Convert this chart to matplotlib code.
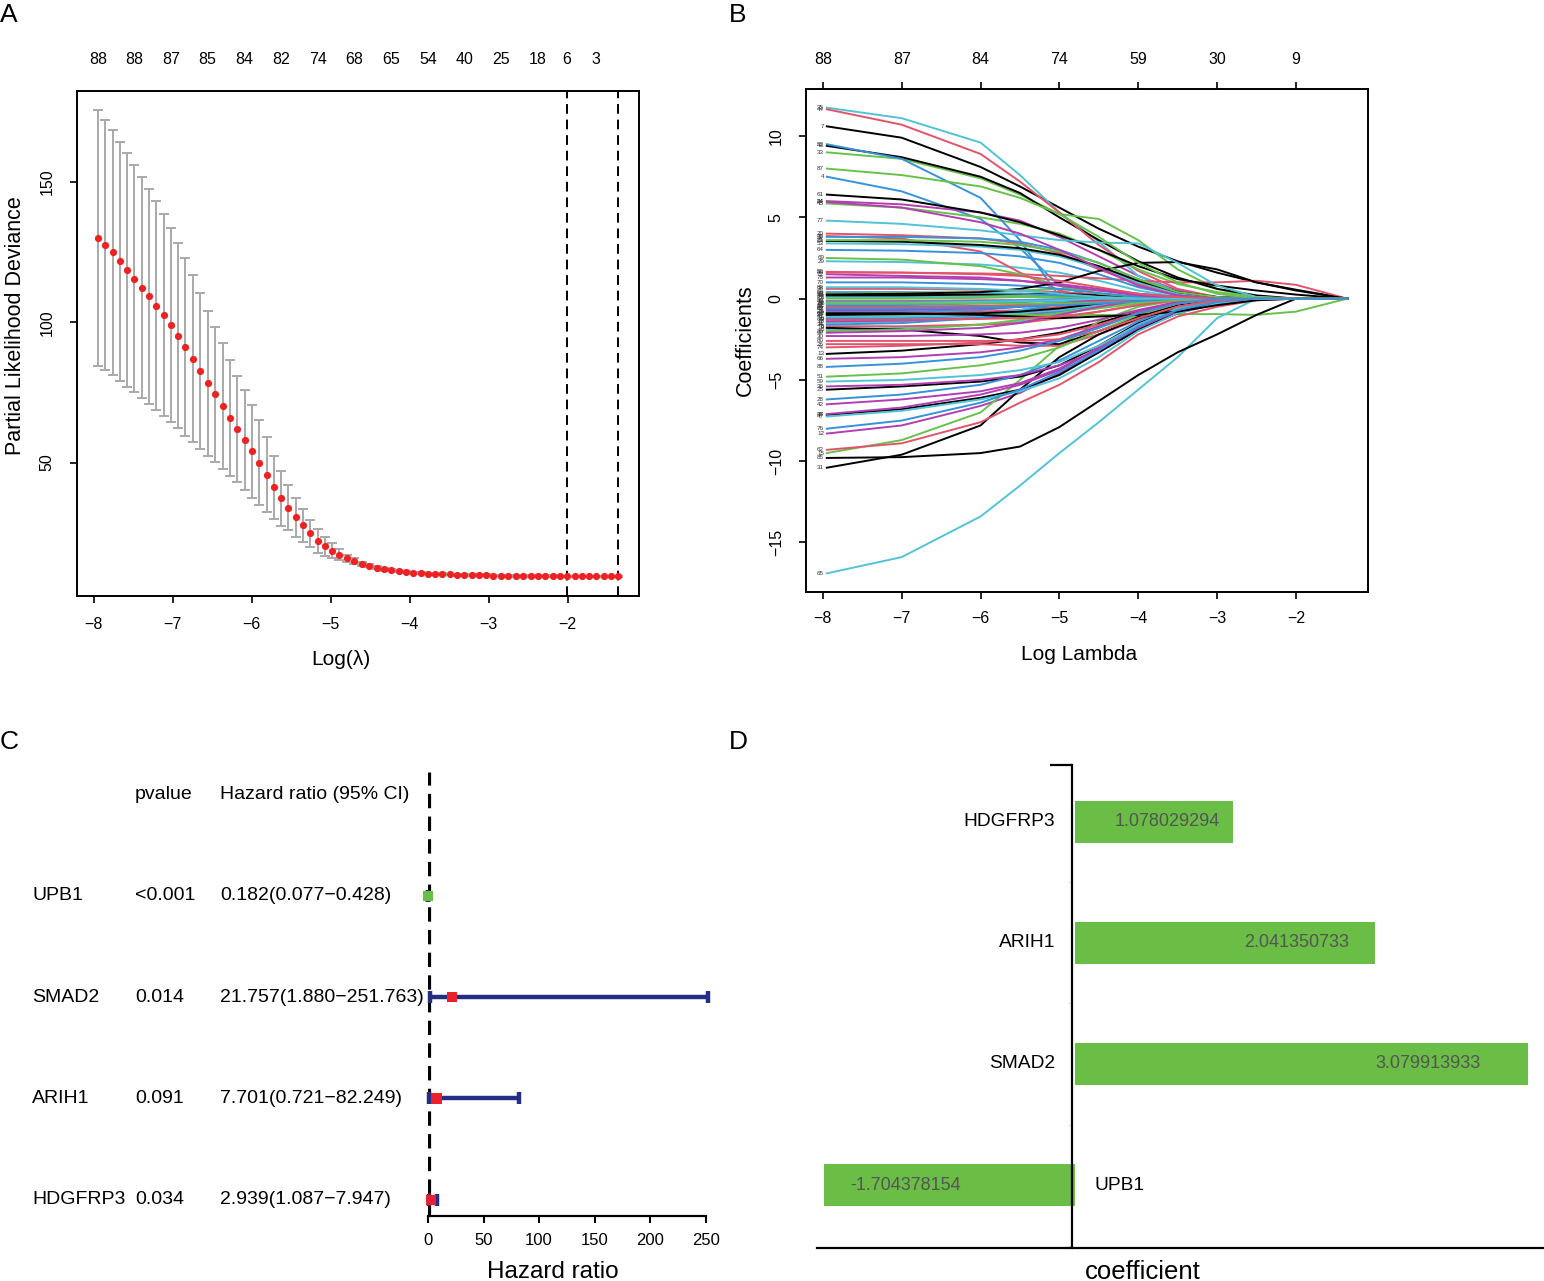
import numpy as np
import matplotlib
matplotlib.use('Agg')
import matplotlib.pyplot as plt
from matplotlib.transforms import blended_transform_factory

plt.rcParams['font.family'] = ['Liberation Sans', 'DejaVu Sans']

# ---------------- panel A: cross-validated deviance ----------------
cv_log_lambda = [
    -7.95, -7.86, -7.76, -7.67, -7.58, -7.49, -7.39, -7.30, -7.21, -7.11,
    -7.02, -6.93, -6.84, -6.74, -6.65, -6.56, -6.46, -6.37, -6.28, -6.19,
    -6.09, -6.00, -5.91, -5.81, -5.72, -5.63, -5.54, -5.44, -5.35, -5.26,
    -5.16, -5.07, -4.98, -4.89, -4.79, -4.70, -4.61, -4.51, -4.42, -4.33,
    -4.24, -4.14, -4.05, -3.96, -3.86, -3.77, -3.68, -3.59, -3.49, -3.40,
    -3.31, -3.21, -3.12, -3.03, -2.94, -2.84, -2.75, -2.66, -2.56, -2.47,
    -2.38, -2.29, -2.19, -2.10, -2.01, -1.91, -1.82, -1.73, -1.64, -1.54,
    -1.45, -1.36]
cv_deviance = [
    130.2, 127.6, 124.9, 121.8, 118.7, 115.6, 112.4, 109.3, 105.9, 102.6,
    99.1, 95.2, 91.2, 87.0, 82.5, 78.3, 74.3, 70.1, 65.9, 61.8,
    57.9, 54.0, 50.0, 45.7, 41.2, 37.2, 33.9, 30.5, 27.6, 24.8,
    22.1, 20.1, 18.6, 17.2, 15.9, 14.9, 13.9, 13.2, 12.5, 12.0,
    11.6, 11.3, 11.0, 10.8, 10.6, 10.4, 10.3, 10.2, 10.1, 10.0,
    9.9, 9.9, 9.8, 9.8, 9.7, 9.7, 9.6, 9.6, 9.6, 9.5,
    9.5, 9.5, 9.5, 9.4, 9.4, 9.4, 9.4, 9.4, 9.4, 9.4,
    9.4, 9.4]
cv_sd = [
    45.6, 44.7, 43.7, 42.6, 41.7, 40.4, 39.4, 38.3, 37.3, 36.1,
    34.6, 33.0, 31.6, 29.8, 27.8, 25.9, 24.2, 22.4, 20.6, 18.9,
    17.8, 16.6, 15.1, 13.3, 11.3, 9.7, 8.1, 6.9, 5.9, 4.9,
    4.2, 3.3, 2.6, 1.9, 1.3, 1.0, 0.8, 0.6, 0.5, 0.5,
    0.4, 0.4, 0.4, 0.3, 0.3, 0.3, 0.3, 0.3, 0.3, 0.3,
    0.3, 0.3, 0.3, 0.3, 0.3, 0.3, 0.3, 0.3, 0.3, 0.3,
    0.3, 0.3, 0.3, 0.3, 0.3, 0.3, 0.3, 0.3, 0.3, 0.3,
    0.3, 0.3]
cv_top_idx = [0, 5, 10, 15, 20, 25, 30, 35, 40, 45, 50, 55, 60, 64, 68]
cv_top_nz = ['88', '88', '87', '85', '84', '82', '74', '68', '65', '54',
             '40', '25', '18', '6', '3']
lambda_min_idx = 64
lambda_1se_idx = 71

# ---------------- panel B: coefficient paths ----------------
path_log_lambda = [-7.95, -7.0, -6.0, -5.5, -5.0, -4.5, -4.0, -3.5, -3.0, -2.5, -2.0, -1.35]
path_ids = list(range(1, 89))
coef_paths = {
    1: [0.3, 0.3, 0.3, 0.25, 0.2, 0.1, 0, 0, 0, 0, 0, 0],
    2: [-0.9, -0.9, -0.8, -0.7, -0.5, -0.3, -0.1, 0, 0, 0, 0, 0],
    3: [0.1, 0.1, 0.15, 0.2, 0.2, 0.15, 0.1, 0, 0, 0, 0, 0],
    4: [7.5, 6.6, 4.9, 3.1, 0.8, 0, 0, 0, 0, 0, 0, 0],
    5: [-1.9, -1.8, -1.6, -1.4, -1.0, -0.5, -0.1, 0, 0, 0, 0, 0],
    6: [-0.3, -0.3, -0.25, -0.2, -0.1, 0, 0, 0, 0, 0, 0, 0],
    7: [10.6, 9.9, 8.1, 6.9, 5.6, 4.3, 3.2, 2.3, 1.6, 1.0, 0.55, 0],
    8: [-1.7, -1.7, -1.6, -1.5, -1.2, -0.8, -0.4, -0.1, 0, 0, 0, 0],
    9: [-1.3, -1.3, -1.2, -1.1, -0.9, -0.6, -0.3, -0.1, 0, 0, 0, 0],
    10: [-1.2, -1.2, -1.1, -1.0, -0.8, -0.4, -0.1, 0, 0, 0, 0, 0],
    11: [-1.5, -1.4, -1.1, -0.7, -0.2, 0, 0, 0, 0, 0, 0, 0],
    12: [-8.3, -7.8, -6.6, -5.8, -4.6, -3.3, -1.9, -0.9, -0.3, 0, 0, 0],
    13: [-3.4, -3.2, -2.8, -2.5, -2.1, -1.5, -0.8, -0.3, 0, 0, 0, 0],
    14: [-0.15, -0.15, -0.1, -0.1, -0.05, 0, 0, 0, 0, 0, 0, 0],
    15: [-9.5, -8.7, -7.0, -5.0, -2.9, -1.4, -0.5, -0.1, 0, 0, 0, 0],
    16: [-0.8, -0.8, -0.7, -0.5, -0.2, 0, 0, 0, 0, 0, 0, 0],
    17: [-0.6, -0.6, -0.5, -0.4, -0.2, 0, 0, 0, 0, 0, 0, 0],
    18: [-1.4, -1.35, -1.2, -1.0, -0.7, -0.35, -0.1, 0, 0, 0, 0, 0],
    19: [-1.8, -1.9, -2.3, -2.7, -2.8, -2.0, -1.1, -0.4, -0.1, 0, 0, 0],
    20: [4.0, 3.9, 3.7, 3.4, 2.8, 1.8, 0.9, 0.3, 0, 0, 0, 0],
    21: [-0.5, -0.5, -0.45, -0.4, -0.3, -0.2, -0.1, 0, 0, 0, 0, 0],
    22: [-0.4, -0.4, -0.3, -0.2, -0.1, 0, 0, 0, 0, 0, 0, 0],
    23: [0.1, 0.1, 0.1, 0.1, 0.05, 0, 0, 0, 0, 0, 0, 0],
    24: [6.0, 5.8, 5.3, 4.8, 3.8, 2.6, 1.4, 0.5, 0.1, 0, 0, 0],
    25: [-5.6, -5.4, -5.1, -4.8, -4.1, -2.9, -1.5, -0.6, -0.1, 0, 0, 0],
    26: [-2.8, -2.8, -2.8, -2.9, -2.9, -2.2, -1.3, -0.5, -0.1, 0, 0, 0],
    27: [-1.0, -1.0, -1.0, -1.0, -1.0, -1.0, -1.0, -0.95, -0.95, -1.0, -0.8, 0],
    28: [-6.2, -5.9, -5.3, -4.7, -3.8, -2.6, -1.4, -0.5, -0.1, 0, 0, 0],
    29: [2.3, 2.25, 2.1, 1.9, 1.6, 1.1, 0.5, 0.1, 0, 0, 0, 0],
    30: [-2.3, -2.3, -2.2, -2.1, -1.8, -1.3, -0.7, -0.2, 0, 0, 0, 0],
    31: [-10.4, -9.6, -7.8, -5.6, -3.6, -2.2, -1.2, -0.6, -0.2, 0, 0, 0],
    32: [3.85, 3.7, 2.9, 1.6, 0.5, 0, 0, 0, 0, 0, 0, 0],
    33: [9.0, 8.6, 7.4, 6.4, 5.2, 4.9, 3.6, 1.8, 0.6, 0.05, 0, 0],
    34: [-1.6, -1.5, -1.2, -0.8, -0.3, 0, 0, 0, 0, 0, 0, 0],
    35: [11.75, 11.1, 9.6, 7.6, 5.3, 3.5, 1.4, 0.4, 0, 0, 0, 0],
    36: [-5.4, -5.3, -5.0, -4.7, -4.1, -3.2, -1.9, -0.8, -0.2, 0, 0, 0],
    37: [-7.15, -6.8, -6.1, -5.6, -4.7, -3.3, -1.9, -0.9, -0.2, 0, 0, 0],
    38: [0.6, 0.6, 0.55, 0.5, 0.4, 0.25, 0.1, 0, 0, 0, 0, 0],
    39: [-2.0, -1.9, -1.6, -1.3, -0.9, -0.5, -0.2, 0, 0, 0, 0, 0],
    40: [-0.2, -0.2, -0.15, -0.1, -0.05, 0, 0, 0, 0, 0, 0, 0],
    41: [-1.1, -1.1, -1.0, -0.9, -0.7, -0.4, -0.1, 0, 0, 0, 0, 0],
    42: [-6.5, -6.2, -5.7, -5.2, -4.3, -3.1, -1.8, -0.7, -0.2, 0, 0, 0],
    43: [9.4, 8.7, 7.5, 6.5, 5.0, 3.6, 2.3, 1.3, 0.6, 0.2, 0, 0],
    44: [11.65, 10.7, 8.9, 7.2, 5.3, 3.3, 1.7, 0.6, 0.1, 0, 0, 0],
    45: [5.85, 5.6, 5.0, 4.6, 4.0, 3.0, 1.8, 0.9, 0.4, 0.1, 0, 0],
    46: [3.8, 3.8, 3.7, 3.5, 3.0, 2.2, 1.2, 0.4, 0.1, 0, 0, 0],
    47: [-7.25, -6.9, -6.2, -5.7, -4.9, -3.6, -2.0, -0.9, -0.3, 0, 0, 0],
    48: [-7.1, -6.7, -5.9, -5.3, -4.4, -3.0, -1.6, -0.6, -0.1, 0, 0, 0],
    49: [0.2, 0.2, 0.25, 0.3, 0.3, 0.2, 0.1, 0, 0, 0, 0, 0],
    50: [1.65, 1.6, 1.55, 1.5, 1.4, 1.25, 1.1, 1.0, 1.0, 1.1, 0.85, 0],
    51: [-4.8, -4.6, -4.1, -3.7, -3.0, -2.0, -1.0, -0.3, 0, 0, 0, 0],
    52: [9.5, 8.6, 6.2, 3.6, 0.1, 0, 0, 0, 0, 0, 0, 0],
    53: [3.4, 3.35, 3.2, 3.0, 2.6, 1.9, 1.0, 0.3, 0, 0, 0, 0],
    54: [-0.7, -0.7, -0.6, -0.5, -0.3, -0.1, 0, 0, 0, 0, 0, 0],
    55: [-1.0, -0.95, -0.9, -0.8, -0.6, -0.3, -0.1, 0, 0, 0, 0, 0],
    56: [-0.5, -0.5, -0.45, -0.4, -0.3, -0.2, -0.1, 0, 0, 0, 0, 0],
    57: [0.0, 0.0, 0.05, 0.1, 0.1, 0.05, 0, 0, 0, 0, 0, 0],
    58: [0.4, 0.4, 0.35, 0.3, 0.2, 0.1, 0, 0, 0, 0, 0, 0],
    59: [-5.1, -5.0, -4.7, -4.4, -3.9, -2.9, -1.6, -0.6, -0.1, 0, 0, 0],
    60: [-2.1, -2.0, -1.8, -1.5, -1.0, -0.5, -0.1, 0, 0, 0, 0, 0],
    61: [6.4, 6.1, 5.3, 4.7, 3.9, 3.0, 2.0, 1.2, 0.8, 0.5, 0.25, 0],
    62: [-9.3, -8.9, -7.6, -6.4, -5.3, -3.9, -2.2, -1.1, -0.5, -0.1, 0, 0],
    63: [0.3, 0.35, 0.4, 0.5, 0.6, 0.5, 0.3, 0.1, 0, 0, 0, 0],
    64: [3.0, 2.95, 2.8, 2.6, 2.2, 1.5, 0.7, 0.2, 0, 0, 0, 0],
    65: [-16.9, -15.9, -13.4, -11.5, -9.5, -7.6, -5.6, -3.6, -1.2, 0, 0, 0],
    66: [-3.7, -3.6, -3.3, -3.0, -2.5, -1.7, -0.8, -0.2, 0, 0, 0, 0],
    67: [-0.9, -0.9, -1.0, -1.1, -1.2, -1.1, -1.0, -0.8, -0.4, -0.1, 0, 0],
    68: [-1.3, -1.3, -1.25, -1.2, -1.1, -0.8, -0.4, -0.1, 0, 0, 0, 0],
    69: [2.5, 2.4, 2.0, 1.5, 0.8, 0.3, 0.1, 0, 0, 0, 0, 0],
    70: [1.0, 1.0, 0.9, 0.8, 0.6, 0.35, 0.1, 0, 0, 0, 0, 0],
    71: [-0.25, -0.25, -0.2, -0.15, -0.1, 0, 0, 0, 0, 0, 0, 0],
    72: [1.5, 1.4, 1.3, 1.1, 0.8, 0.5, 0.2, 0, 0, 0, 0, 0],
    73: [0.25, 0.3, 0.4, 0.6, 1.0, 1.7, 2.2, 2.25, 1.8, 1.0, 0.5, 0],
    74: [-3.0, -2.9, -2.7, -2.5, -2.2, -1.6, -0.9, -0.3, 0, 0, 0, 0],
    75: [-0.3, -0.3, -0.3, -0.3, -0.3, -0.25, -0.2, -0.1, 0, 0, 0, 0],
    76: [-8.0, -7.5, -6.4, -5.6, -4.5, -3.2, -1.7, -0.7, -0.2, 0, 0, 0],
    77: [4.8, 4.6, 4.2, 3.9, 3.6, 3.45, 3.4, 2.2, 0.8, 0.1, 0, 0],
    78: [1.3, 1.3, 1.2, 1.1, 0.9, 0.6, 0.3, 0.1, 0, 0, 0, 0],
    79: [3.55, 3.5, 3.3, 3.1, 2.7, 2.0, 1.1, 0.4, 0.1, 0, 0, 0],
    80: [-2.6, -2.6, -2.6, -2.6, -2.5, -2.0, -1.2, -0.5, -0.1, 0, 0, 0],
    81: [3.6, 3.6, 3.5, 3.3, 2.9, 2.2, 1.2, 0.4, 0.1, 0, 0, 0],
    82: [-0.6, -0.6, -0.55, -0.5, -0.4, -0.3, -0.15, 0, 0, 0, 0, 0],
    83: [0.7, 0.7, 0.6, 0.5, 0.3, 0.1, 0, 0, 0, 0, 0, 0],
    84: [5.95, 5.6, 4.7, 4.0, 3.0, 1.9, 0.8, 0.2, 0, 0, 0, 0],
    85: [-9.8, -9.75, -9.5, -9.1, -7.9, -6.3, -4.7, -3.3, -2.2, -1.0, 0, 0],
    86: [1.6, 1.6, 1.5, 1.4, 1.1, 0.7, 0.3, 0.1, 0, 0, 0, 0],
    87: [8.0, 7.6, 6.9, 6.2, 5.2, 3.8, 2.2, 1.0, 0.3, 0, 0, 0],
    88: [-4.2, -4.0, -3.6, -3.2, -2.6, -1.8, -0.9, -0.3, 0, 0, 0, 0],
}
path_top_ticks = [-8, -7, -6, -5, -4, -3, -2]
path_top_nz = ['88', '87', '84', '74', '59', '30', '9']
path_palette = ['black', '#E2546C', '#68C14B', '#3792DA', '#52C3D4', '#B23FB2']

# ---------------- panel C: forest plot ----------------
forest_genes = ['UPB1', 'SMAD2', 'ARIH1', 'HDGFRP3']
forest_pvals = ['<0.001', '0.014', '0.091', '0.034']
forest_hr = [0.182, 21.757, 7.701, 2.939]
forest_lo = [0.077, 1.880, 0.721, 1.087]
forest_hi = [0.428, 251.763, 82.249, 7.947]
forest_rows = [4, 3, 2, 1]

# ---------------- panel D: lasso coefficients ----------------
coef_genes = ['UPB1', 'SMAD2', 'ARIH1', 'HDGFRP3']
coef_values = [-1.704378154, 3.079913933, 2.041350733, 1.078029294]
coef_rows = [1, 2, 3, 4]
coef_text_x = [-1.15, 2.40, 1.51, 0.63]

W, H = 1544, 1281
fig = plt.figure(figsize=(W / 100, H / 100), dpi=100)


def px_axes(x0, y0, x1, y1):
    return fig.add_axes([x0 / W, 1 - y1 / H, (x1 - x0) / W, (y1 - y0) / H])


def padded(vmin, vmax, frac=0.04):
    span = vmax - vmin
    return vmin - frac * span, vmax + frac * span


# ---- A ----
axA = px_axes(77, 91, 639, 596)
dev = np.array(cv_deviance)
sd = np.array(cv_sd)
axA.errorbar(cv_log_lambda, dev, yerr=sd, fmt='none', ecolor='#A9A9A9',
             elinewidth=1.4, capsize=3.6, capthick=1.4, zorder=1)
axA.plot(cv_log_lambda, dev, 'o', color='#EE2222', markersize=5.2,
         markeredgewidth=0, zorder=3)
for idx in (lambda_min_idx, lambda_1se_idx):
    axA.axvline(cv_log_lambda[idx], color='black', lw=1.4, ls=(0, (5, 3)), zorder=2)
axA.set_xlim(*padded(min(cv_log_lambda), max(cv_log_lambda)))
axA.set_ylim(*padded((dev - sd).min(), (dev + sd).max()))
axA.set_xticks([-8, -7, -6, -5, -4, -3, -2])
axA.set_yticks([50, 100, 150])
axA.tick_params(direction='out', length=5, width=1.2, labelsize=11.5)
axA.tick_params(axis='x', pad=10)
axA.tick_params(axis='y', pad=11, labelrotation=90)
for lab in axA.get_yticklabels():
    lab.set_va('center')
for sp in axA.spines.values():
    sp.set_linewidth(1.4)
axA.set_xlabel('Log(λ)', fontsize=15)
axA.xaxis.set_label_coords(0.47, -0.125)
axA.xaxis.label.set_va('center')
axA.set_ylabel('Partial Likelihood Deviance', fontsize=15.5)
axA.yaxis.set_label_coords(-0.11, 0.535)
axA.yaxis.label.set_va('center')
topA = axA.secondary_xaxis('top')
topA.set_xticks([cv_log_lambda[i] for i in cv_top_idx], cv_top_nz)
topA.tick_params(length=0, pad=17, labelsize=11.5)
topA.spines['top'].set_visible(False)

# ---- B ----
axB = px_axes(806, 89, 1368, 592)
all_vals = []
for pid in path_ids:
    vals = coef_paths[pid]
    all_vals.extend(vals)
    axB.plot(path_log_lambda, vals, color=path_palette[(pid - 1) % 6], lw=1.4)
    axB.annotate(str(pid), (path_log_lambda[0], vals[0]), xytext=(-2, 0),
                 textcoords='offset points', ha='right', va='center',
                 fontsize=4.5, color='#333333')
axB.set_xlim(*padded(min(path_log_lambda), max(path_log_lambda)))
axB.set_ylim(*padded(min(all_vals), max(all_vals)))
axB.set_xticks([-8, -7, -6, -5, -4, -3, -2])
axB.set_yticks([-15, -10, -5, 0, 5, 10])
axB.tick_params(direction='out', length=5, width=1.2, labelsize=11.5)
axB.tick_params(axis='x', pad=9)
axB.tick_params(axis='y', pad=11, labelrotation=90)
for lab in axB.get_yticklabels():
    lab.set_va('center')
for sp in axB.spines.values():
    sp.set_linewidth(1.4)
axB.set_xlabel('Log Lambda', fontsize=15)
axB.xaxis.set_label_coords(0.485, -0.125)
axB.xaxis.label.set_va('center')
axB.set_ylabel('Coefficients', fontsize=15.5)
axB.yaxis.set_label_coords(-0.108, 0.5)
axB.yaxis.label.set_va('center')
topB = axB.secondary_xaxis('top')
topB.set_xticks(path_top_ticks, path_top_nz)
topB.tick_params(direction='out', length=5, width=1.2, pad=11, labelsize=11.5)
topB.spines['top'].set_visible(False)

# ---- C ----
axC = px_axes(428, 772, 708, 1216)
axC.set_xlim(0, 252)
axC.set_ylim(0.84, 5.22)
axC.axvline(1, color='black', lw=2.3, ls=(0, (4.5, 2.6)), zorder=1)
axC.errorbar(forest_hr, forest_rows,
             xerr=[np.array(forest_hr) - np.array(forest_lo),
                   np.array(forest_hi) - np.array(forest_hr)],
             fmt='none', ecolor='#232E84', elinewidth=3.2, capsize=4.5,
             capthick=3.2, clip_on=False, zorder=2)
marker_cols = ['#E8212B' if h > 1 else '#69BE45' for h in forest_hr]
axC.scatter(forest_hr, forest_rows, marker='s', s=55, c=marker_cols,
            linewidths=0, clip_on=False, zorder=3)
for sp in ('top', 'right', 'left'):
    axC.spines[sp].set_visible(False)
axC.spines['bottom'].set_linewidth(1.6)
axC.spines['bottom'].set_bounds(0, 250)
axC.set_yticks([])
axC.set_xticks([0, 50, 100, 150, 200, 250])
axC.tick_params(axis='x', direction='out', length=5, width=1.5, pad=7, labelsize=12)
tC = blended_transform_factory(fig.transFigure, axC.transData)
head_y = 5
fig.text(135 / W, head_y, 'pvalue', transform=tC, va='center', fontsize=14)
fig.text(220 / W, head_y, 'Hazard ratio (95% CI)', transform=tC, va='center', fontsize=14)
for g, p, h, lo, hi, r in zip(forest_genes, forest_pvals, forest_hr,
                               forest_lo, forest_hi, forest_rows):
    fig.text(32 / W, r, g, transform=tC, va='center', fontsize=14)
    fig.text(135 / W, r, p, transform=tC, va='center', fontsize=14)
    fig.text(220 / W, r, f'{h:.3f}({lo:.3f}\u2212{hi:.3f})', transform=tC,
             va='center', fontsize=14)
fig.text(553 / W, 1 - 1272 / H, 'Hazard ratio', ha='center', va='center', fontsize=17.5)

# ---- D ----
axD = px_axes(817, 765, 1544, 1248)
axD.barh(coef_rows, coef_values, height=0.35, color='#6ABD45')
axD.set_xlim((817 - 1075) / 147, (1544 - 1075) / 147)
axD.set_ylim(0.48, 4.47)
for sp in ('top', 'right'):
    axD.spines[sp].set_visible(False)
axD.spines['left'].set_position(('data', -0.02))
axD.spines['left'].set_linewidth(1.6)
axD.spines['bottom'].set_linewidth(1.6)
axD.set_xticks([])
axD.set_yticks([0.5, 1.5, 2.5, 3.5], [''] * 4)
axD.tick_params(axis='y', length=3, width=0.8, color='#DDDDDD')
axD.set_yticks([4.47], minor=True)
axD.tick_params(axis='y', which='minor', length=16, width=1.6, color='black')
for g, v, r, tx in zip(coef_genes, coef_values, coef_rows, coef_text_x):
    if v >= 0:
        axD.text(-0.136, r, g, ha='right', va='center', fontsize=13.8)
    else:
        axD.text(0.136, r, g, ha='left', va='center', fontsize=13.8)
    axD.text(tx, r, f'{v:.9f}', ha='center', va='center', fontsize=13, color='#555555')
fig.text(1143 / W, 1 - 1272 / H, 'coefficient', ha='center', va='center', fontsize=18.5)

# ---- panel letters ----
for letter, x, y in (('A', 0, 3), ('B', 729, 3), ('C', 0, 730), ('D', 729, 730)):
    fig.text(x / W, 1 - y / H, letter, ha='left', va='top', fontsize=19)

fig.savefig('out.png', dpi=100)
